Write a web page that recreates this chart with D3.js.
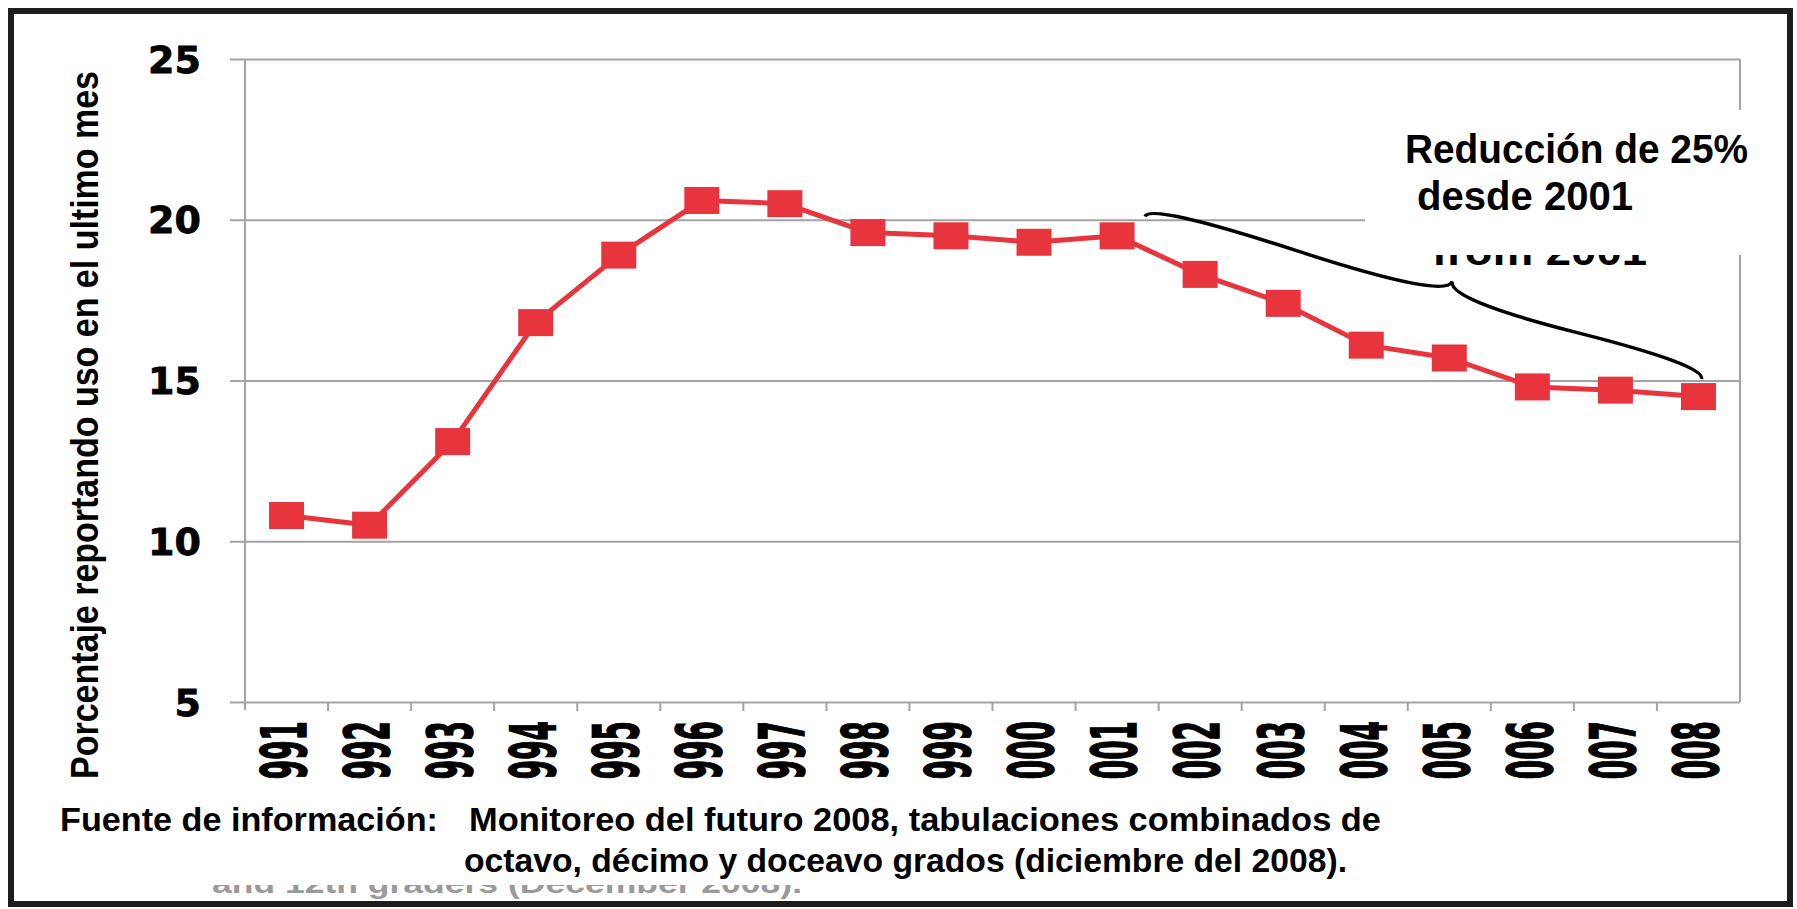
<!DOCTYPE html>
<html>
<head>
<meta charset="utf-8">
<script src="https://cdn.jsdelivr.net/npm/d3@7"></script>
<style>
  body { margin: 0; background: #fff; }
  svg { display: block; }
</style>
</head>
<body>
<svg id="chart" width="1797" height="909"></svg>
<script>
// data
const years = ['1991', '1992', '1993', '1994', '1995', '1996', '1997', '1998', '1999',
  '2000', '2001', '2002', '2003', '2004', '2005', '2006', '2007', '2008']
const usage = [10.8, 10.5, 13.1, 16.8, 18.9, 20.6, 20.5, 19.6, 19.5,
  19.3, 19.5, 18.3, 17.4, 16.1, 15.7, 14.8, 14.7, 14.5]
const yTicks = [5, 10, 15, 20, 25]
const yTitle = 'Porcentaje reportando uso en el ultimo mes'
const noteLines = ['Reducción de 25%', 'desde 2001']
const noteGhost = 'from 2001'
const sourceLabel = 'Fuente de información:'
const sourceLines = ['Monitoreo del futuro 2008, tabulaciones combinados de',
  'octavo, décimo y doceavo grados (diciembre del 2008).']
const sourceGhost = 'and 12th graders (December 2008).'
// brace runs over the 2001 -> 2008 decline
const braceStart = { year: '2001', value: 20.1 }
const braceEnd = { year: '2008', value: 15.05 }

const RED = '#e8343d'
const GRID = '#a3a3a3'
const data = years.map((y, i) => ({ year: y, value: usage[i] }))

const svg = d3.select('#chart')

const xScale = d3.scaleBand().domain(years).range([245, 1740])
const yScale = d3.scaleLinear().domain([5, 25]).range([702, 59])
const cx = d => xScale(d) + xScale.bandwidth() / 2

/**
 * Curly brace between two points. w pushes the tip to the left of the
 * direction of travel, f sets where along the span the tip sits.
 */
function bracePath (x1, y1, x2, y2, w, q, f) {
  const len = Math.hypot(x2 - x1, y2 - y1)
  const ux = (x2 - x1) / len
  const uy = (y2 - y1) / len
  const nx = uy
  const ny = -ux
  const at = (t, o) => [x1 + t * len * ux + o * nx, y1 + t * len * uy + o * ny]
  const c1 = [x1 + q * w * nx, y1 + q * w * ny]
  const c2 = [x2 + q * w * nx, y2 + q * w * ny]
  const m1 = at(f / 2, (1 - q) * w)
  const m2 = at((1 + f) / 2, (1 - q) * w)
  const tip = at(f, w)
  return `M${x1},${y1} Q${c1} ${m1} T${tip} M${x2},${y2} Q${c2} ${m2} T${tip}`
}

// gridlines + y axis ticks
svg.append('g')
  .attr('class', 'y axis')
  .attr('transform', 'translate(245,0)')
  .call(d3.axisLeft(yScale).tickValues(yTicks).tickSize(-1495).tickSizeOuter(0).tickFormat(''))
  .call(g => g.select('.domain').remove())
  .call(g => g.selectAll('.tick line')
    .attr('x1', -15).attr('stroke', GRID).attr('stroke-width', 2))

svg.append('g')
  .selectAll('text')
  .data(yTicks)
  .enter()
  .append('text')
  .attr('x', 201)
  .attr('y', d => yScale(d))
  .attr('dy', '0.36em')
  .attr('text-anchor', 'end')
  .attr('stroke', '#000')
  .attr('stroke-width', 0.8)
  .style('font-family', 'DejaVu Sans')
  .style('font-weight', 'bold')
  .style('font-size', '38px')
  .text(d => d)

// y axis line, right frame line
svg.append('line')
  .attr('x1', 245).attr('x2', 245)
  .attr('y1', yScale(25)).attr('y2', yScale(5) + 8)
  .attr('stroke', GRID).attr('stroke-width', 2)
svg.append('line')
  .attr('x1', 1740).attr('x2', 1740)
  .attr('y1', yScale(25)).attr('y2', yScale(5))
  .attr('stroke', GRID).attr('stroke-width', 2)

// x ticks at band edges
svg.append('g')
  .selectAll('line')
  .data(years.slice(1))
  .enter()
  .append('line')
  .attr('x1', d => xScale(d)).attr('x2', d => xScale(d))
  .attr('y1', yScale(5)).attr('y2', yScale(5) + 9)
  .attr('stroke', GRID).attr('stroke-width', 2)

// year labels, squeezed and rotated
svg.append('g')
  .selectAll('text')
  .data(years)
  .enter()
  .append('text')
  .attr('transform', d => `translate(${cx(d) - 3},721) rotate(-90) scale(0.45,1)`)
  .attr('text-anchor', 'end')
  .attr('dy', '0.36em')
  .attr('stroke', '#000')
  .attr('stroke-width', 1.5)
  .style('font-family', 'DejaVu Sans')
  .style('font-weight', 'bold')
  .style('font-size', '62px')
  .text(d => d)

// y title
svg.append('text')
  .attr('transform', 'translate(98,425) rotate(-90)')
  .attr('text-anchor', 'middle')
  .attr('textLength', 708)
  .attr('lengthAdjust', 'spacingAndGlyphs')
  .style('font-family', 'Liberation Sans')
  .style('font-weight', 'bold')
  .style('font-size', '38px')
  .text(yTitle)

// series
svg.append('path')
  .datum(data)
  .attr('fill', 'none')
  .attr('stroke', RED)
  .attr('stroke-width', 5)
  .attr('stroke-linejoin', 'round')
  .attr('d', d3.line().x(d => cx(d.year)).y(d => yScale(d.value)))

svg.append('g')
  .selectAll('rect')
  .data(data)
  .enter()
  .append('rect')
  .attr('x', d => cx(d.year) - 17.5)
  .attr('y', d => yScale(d.value) - 13.5)
  .attr('width', 35)
  .attr('height', 27)
  .attr('fill', RED)

// annotation with leftover english line underneath
svg.append('text')
  .attr('x', 1432).attr('y', 265)
  .attr('textLength', 215)
  .attr('lengthAdjust', 'spacingAndGlyphs')
  .style('font-family', 'Liberation Sans')
  .style('font-weight', 'bold')
  .style('font-size', '40px')
  .text(noteGhost)
svg.append('rect')
  .attr('x', 1365).attr('y', 110)
  .attr('width', 422).attr('height', 145)
  .attr('fill', '#fff')
svg.append('g')
  .selectAll('text')
  .data(noteLines)
  .enter()
  .append('text')
  .attr('x', (d, i) => i === 0 ? 1405 : 1417)
  .attr('y', (d, i) => i === 0 ? 163 : 210)
  .attr('textLength', (d, i) => i === 0 ? 343 : 216)
  .attr('lengthAdjust', 'spacingAndGlyphs')
  .style('font-family', 'Liberation Sans')
  .style('font-weight', 'bold')
  .style('font-size', '40px')
  .text(d => d)

svg.append('path')
  .attr('d', bracePath(cx(braceStart.year) + 28, yScale(braceStart.value),
    cx(braceEnd.year) + 3, yScale(braceEnd.value), 24, 0.6, 0.54))
  .attr('fill', 'none')
  .attr('stroke', '#000')
  .attr('stroke-width', 3.5)

// source block pasted over the bottom
svg.append('text')
  .attr('x', 212).attr('y', 893)
  .attr('textLength', 590)
  .attr('lengthAdjust', 'spacingAndGlyphs')
  .attr('fill', '#9a9a9a')
  .style('font-family', 'Liberation Sans')
  .style('font-weight', 'bold')
  .style('font-size', '28px')
  .text(sourceGhost)
svg.append('rect')
  .attr('x', 16).attr('y', 781)
  .attr('width', 1770).attr('height', 104)
  .attr('fill', '#fff')

const footFont = g => g
  .attr('lengthAdjust', 'spacingAndGlyphs')
  .style('font-family', 'Liberation Sans')
  .style('font-weight', 'bold')
  .style('font-size', '34px')

svg.append('text')
  .attr('x', 60).attr('y', 831)
  .attr('textLength', 378)
  .call(footFont)
  .text(sourceLabel)
svg.append('g')
  .selectAll('text')
  .data(sourceLines)
  .enter()
  .append('text')
  .attr('x', (d, i) => i === 0 ? 469 : 464)
  .attr('y', (d, i) => i === 0 ? 831 : 872)
  .attr('textLength', (d, i) => i === 0 ? 912 : 883)
  .call(footFont)
  .text(d => d)

// outer frame
svg.append('rect')
  .attr('x', 11).attr('y', 11)
  .attr('width', 1779).attr('height', 893)
  .attr('fill', 'none')
  .attr('stroke', '#1c1c1c')
  .attr('stroke-width', 6)
</script>
</body>
</html>
